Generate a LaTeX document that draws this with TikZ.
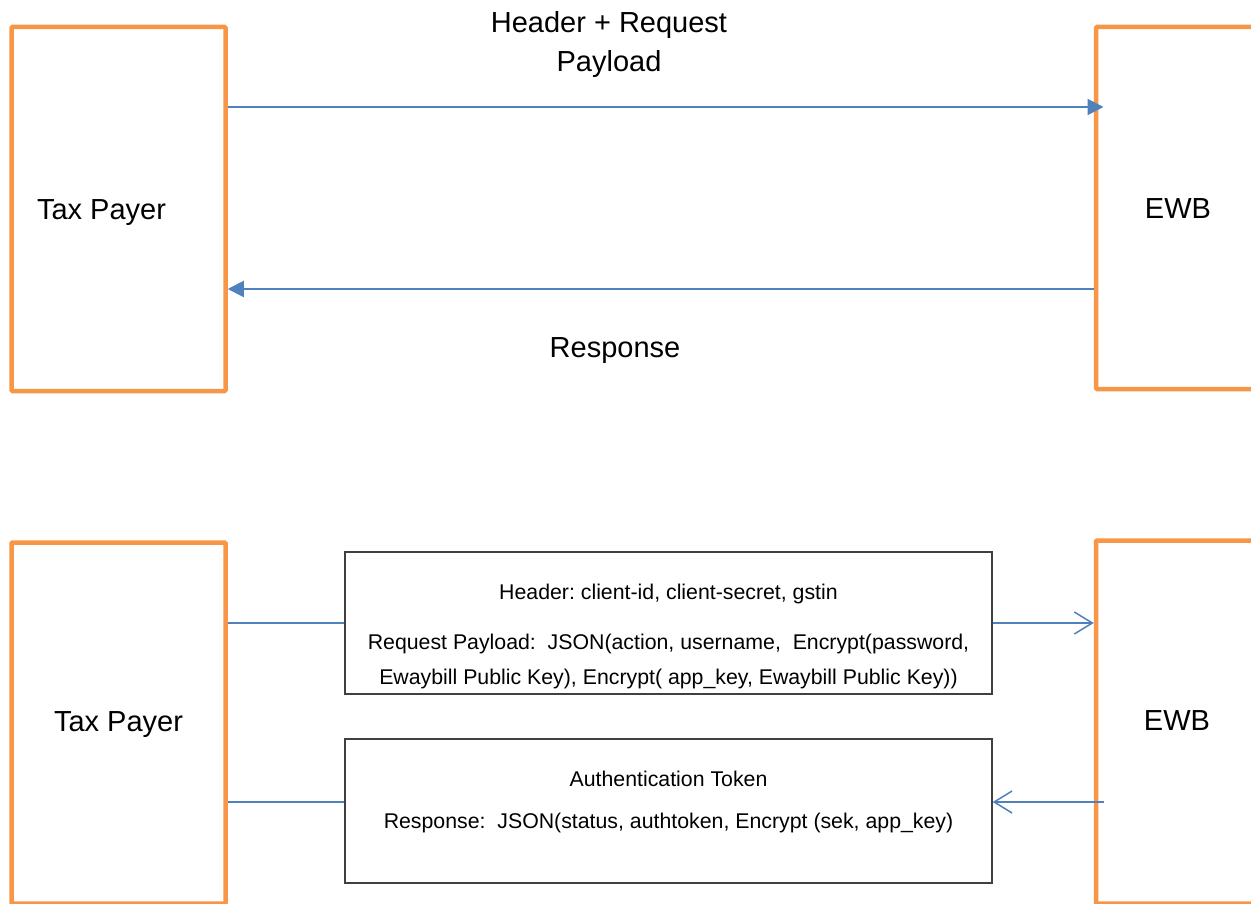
\documentclass[tikz,border=0pt]{standalone}
\usepackage{fontspec}
\setmainfont{Liberation Sans}
\usetikzlibrary{arrows.meta, positioning}
\definecolor{partyorange}{HTML}{F79646}
\definecolor{linkblue}{HTML}{4F81BD}
\definecolor{framegray}{HTML}{404040}
\tikzset{
party/.style={draw=partyorange, line width=4.5pt, rounded corners=1pt, inner sep=0pt, minimum width=214pt}, % the orange boxes
msgbox/.style={draw=framegray, line width=1.3pt, inner sep=0pt, minimum width=647pt}, % the message boxes
bigtext/.style={font=\fontsize{29}{39}\selectfont\frenchspacing, align=center},
smalltext/.style={font=\fontsize{21.3}{35}\selectfont\frenchspacing, align=center},
link/.style={draw=linkblue, line width=1.5pt},
solid tip/.style={draw=linkblue, line width=2pt, -{Triangle[length=16pt,width=16pt]}}, % filled arrow heads
open tip/.style={link, -{Straight Barb[length=18pt,width=22pt]}}, % open arrow heads
}
\begin{document}
\begin{tikzpicture}[x=1pt, y=-1pt]
                \useasboundingbox (0,0) rectangle (1251,904);
                % upper diagram
                \node[party, minimum height=364pt] (tp1) at (118.5,209) {};
                \node[party, minimum height=362pt] (ewb1) at (1203,208) {};
                \node[bigtext] (tp1txt) at (101.5,212.5) {Tax Payer};
                \node[bigtext] (ewb1txt) at (1178,209) {EWB};
                \node[bigtext] (reqlbl) at (609,44.5) {Header + Request\\Payload};
                \node[bigtext] (resplbl) at (615,350.5) {Response};
                \coordinate (reqend) at (1103.5,107);
                \draw[solid tip] (tp1.east |- reqend) -- (reqend);
                \draw[solid tip] (ewb1.west |- 0,289) -- (tp1.east |- 0,289);
                % lower diagram
                \node[party, minimum height=361pt] (tp2) at (118.5,723) {};
                \node[party, minimum height=363pt] (ewb2) at (1203,722) {};
                \node[bigtext] (tp2txt) at (118.5,724.5) {Tax Payer};
                \node[bigtext] (ewb2txt) at (1177,721) {EWB};
                \node[msgbox, minimum height=142pt] (req) at (668.5,623) {};
                \node[msgbox, minimum height=144pt] (resp) at (668.5,811) {};
                \node[smalltext] (reqtxt) at (668.5,636.5) {Header: client-id, client-secret, gstin\\[15pt]
                    Request Payload:\ \ JSON(action, username,\ \ Encrypt(password,\\
                    Ewaybill Public Key), Encrypt( app\_key, Ewaybill Public Key))};
                \node[smalltext] (resptxt) at (668.5,802) {Authentication Token\\[7pt]
                    Response:\ \ JSON(status, authtoken, Encrypt (sek, app\_key)};
                \coordinate (authstart) at (1104,802);
                \draw[link] (tp2.east |- req.west) -- (req.west);
                \draw[open tip] (req.east) -- (ewb2.west |- req.east);
                \draw[open tip] (authstart) -- (resp.east |- authstart);
                \draw[link] (resp.west |- authstart) -- (tp2.east |- authstart);
\end{tikzpicture}
\end{document}
